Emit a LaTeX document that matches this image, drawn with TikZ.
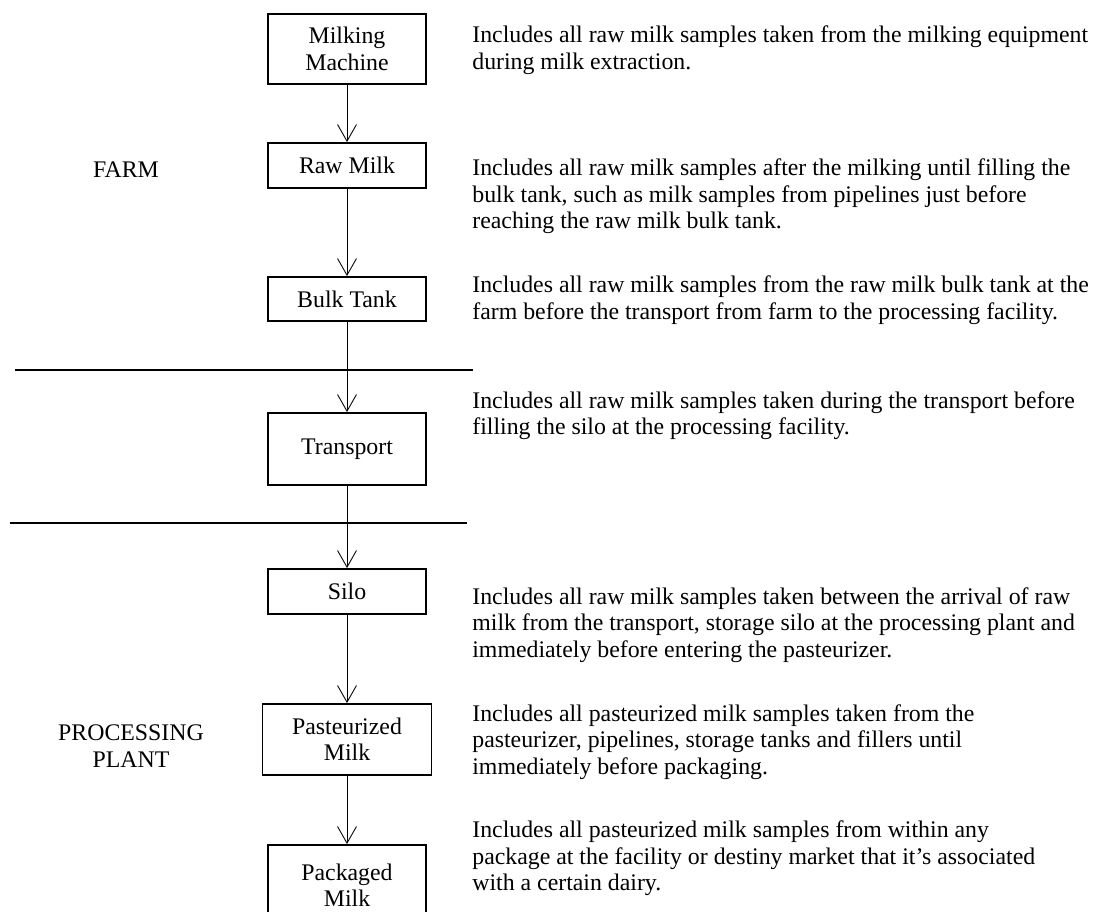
\documentclass[tikz,border=0pt]{standalone}
\usepackage{fontspec}
\setmainfont{Liberation Serif}
\usetikzlibrary{arrows.meta}

\begin{document}
\begin{tikzpicture}[x=0.571pt,y=-0.571pt,
    every node/.style={font=\fontsize{13.6}{15.1}\selectfont},
    stage/.style={draw,line width=1.1pt,minimum width=90.2pt,align=center,inner sep=2pt},
    note/.style={anchor=base west,align=left,inner sep=0pt},
    flow/.style={-{Straight Barb[length=9.5pt,width=10.8pt]},line width=0.5pt}]
    \useasboundingbox (0,0) rectangle (1096,911);

    % stages
    \node[stage,minimum height=40pt] (milking) at (347,49) {Milking\\Machine};
    \node[stage,minimum height=25.7pt] (raw) at (347,165.5) {Raw Milk};
    \node[stage,minimum height=25.1pt] (bulk) at (347,299) {Bulk Tank};
    \node[stage,minimum height=41.1pt] (transport) at (347,449) {Transport};
    \node[stage,minimum height=25.7pt] (silo) at (347,591.5) {Silo};
    \node[stage,minimum height=40.5pt,minimum width=96.5pt] (pasteurized) at (347,739.5) {Pasteurized\\Milk};
    \node[stage,minimum height=45.7pt] (packaged) at (347,885) {Packaged\\Milk};

    \draw[flow] (milking) -- (raw);
    \draw[flow] (raw) -- (bulk);
    \draw[flow] (bulk) -- (transport);
    \draw[flow] (transport) -- (silo);
    \draw[flow] (silo) -- (pasteurized);
    \draw[flow] (pasteurized) -- (packaged);

    % farm / plant split
    \draw[line width=1.1pt] (15,370) -- (473,370);
    \draw[line width=1.1pt] (10,523) -- (467,523);

    \node (farm) at (126,170) {FARM};
    \node[align=center] (plant) at (131,746) {PROCESSING\\PLANT};

    % descriptions (anchored on the last line)
    \node[note] (d1) at (472,69) {Includes all raw milk samples taken from the milking equipment\\during milk extraction.};
    \node[note] (d2) at (472,228.5) {Includes all raw milk samples after the milking until filling the\\bulk tank, such as milk samples from pipelines just before\\reaching the raw milk bulk tank.};
    \node[note] (d3) at (472,319) {Includes all raw milk samples from the raw milk bulk tank at the\\farm before the transport from farm to the processing facility.};
    \node[note] (d4) at (472,434.5) {Includes all raw milk samples taken during the transport before\\filling the silo at the processing facility.};
    \node[note] (d5) at (472,657) {Includes all raw milk samples taken between the arrival of raw\\milk from the transport, storage silo at the processing plant and\\immediately before entering the pasteurizer.};
    \node[note] (d6) at (472,774) {Includes all pasteurized milk samples taken from the\\pasteurizer, pipelines, storage tanks and fillers until\\immediately before packaging.};
    \node[note] (d7) at (472,890.5) {Includes all pasteurized milk samples from within any\\package at the facility or destiny market that it’s associated\\with a certain dairy.};
\end{tikzpicture}
\end{document}
